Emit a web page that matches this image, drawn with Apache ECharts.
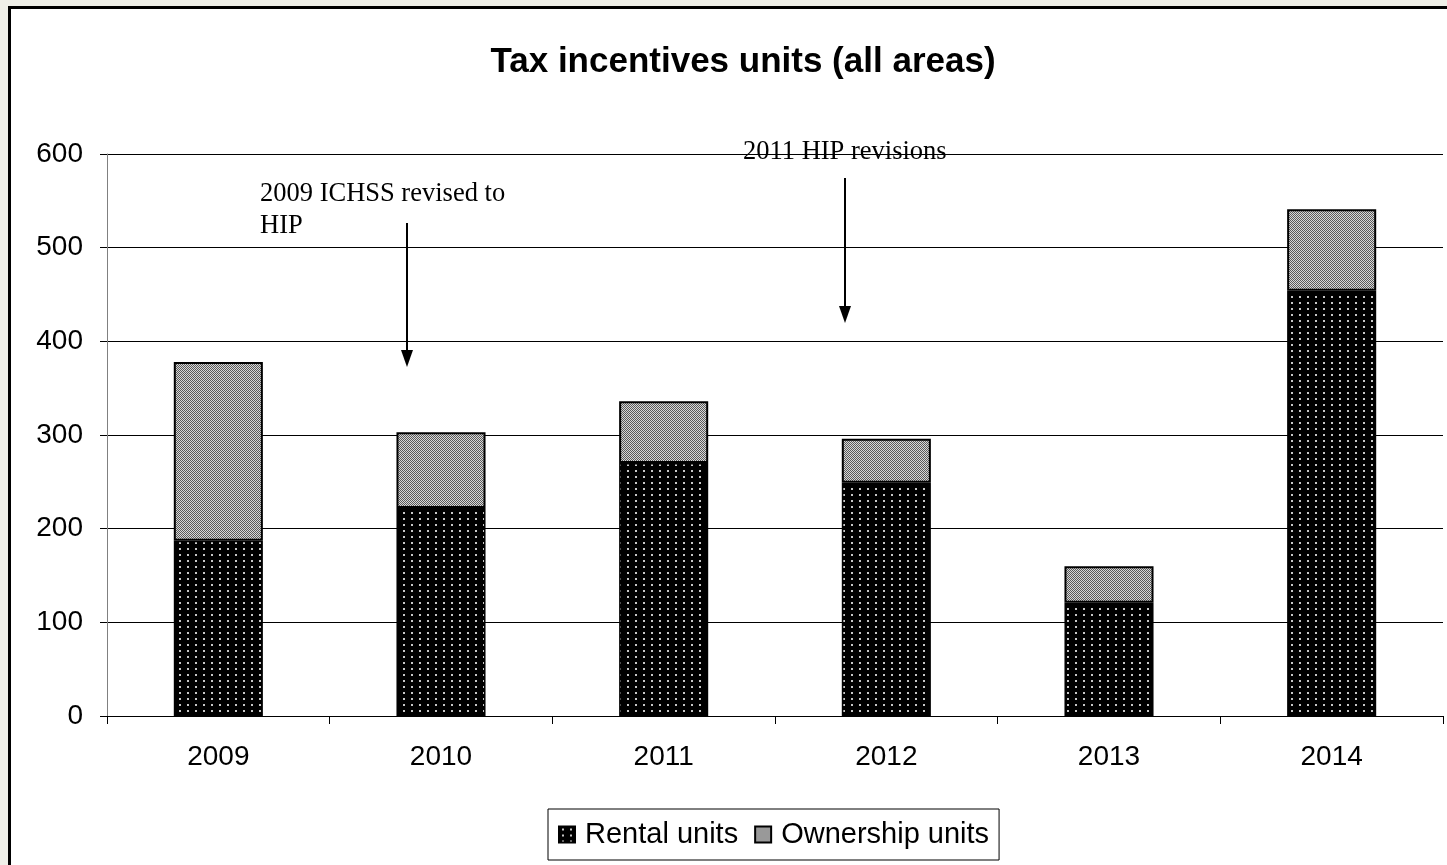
<!DOCTYPE html>
<html>
<head>
<meta charset="utf-8">
<script src="https://cdn.jsdelivr.net/npm/echarts@6/dist/echarts.min.js"></script>
<style>
    html, body { margin: 0; padding: 0; background: #efefe8; overflow: hidden; }
    #frame { position: absolute; left: 8px; top: 6px; width: 1460px; height: 880px; border: 3px solid #000; background: #fff; }
    #main { position: absolute; left: 0; top: 0; width: 1447px; height: 865px; }
</style>
</head>
<body>
<div id="frame"></div>
<div id="main"></div>
<script>
    // data
    var years = ['2009', '2010', '2011', '2012', '2013', '2014'];
    var rentalUnits = [187, 222, 270, 249, 121, 454];
    var ownershipUnits = [191, 81, 66, 47, 39, 87];
    var yTicks = [0, 100, 200, 300, 400, 500, 600];

    // fill patterns like the old office chart
    function makeTile(w, h, draw) {
        var c = document.createElement('canvas');
        c.width = w;
        c.height = h;
        draw(c.getContext('2d'));
        return { image: c, repeat: 'repeat' };
    }
    var rentalFill = makeTile(8, 6, function (ctx) {
        ctx.fillStyle = '#000';
        ctx.fillRect(0, 0, 8, 6);
        ctx.fillStyle = '#c8c8c8';
        ctx.fillRect(3, 2, 2, 2);
    });
    var ownershipFill = makeTile(2, 2, function (ctx) {
        ctx.fillStyle = '#d8d8d8';
        ctx.fillRect(0, 0, 2, 2);
        ctx.fillStyle = '#5a5a5a';
        ctx.fillRect(0, 0, 1, 1);
        ctx.fillRect(1, 1, 1, 1);
    });

    var myChart = echarts.init(document.getElementById('main'));
    var option = {
        animation: false,
        backgroundColor: 'transparent',
        title: {
            text: 'Tax incentives units (all areas)',
            left: 738,
            top: 40,
            textAlign: 'center',
            textStyle: {
                fontFamily: 'Liberation Sans',
                fontWeight: 'bold',
                fontSize: 35,
                color: '#000'
            }
        },
        grid: {
            left: 107,
            right: 4,
            top: 154,
            bottom: 149
        },
        legend: {
            data: ['Rental units', 'Ownership units'],
            left: 548,
            top: 809,
            padding: [11, 10, 11, 10],
            borderColor: '#000',
            borderWidth: 1,
            itemGap: 16,
            itemWidth: 16,
            itemHeight: 16,
            icon: 'rect',
            textStyle: {
                fontFamily: 'Liberation Sans',
                fontSize: 29,
                color: '#000',
                padding: [0, 0, 0, 5]
            }
        },
        xAxis: {
            type: 'category',
            data: years,
            axisLine: { lineStyle: { color: '#000', width: 1 } },
            axisTick: { show: true, length: 8, lineStyle: { color: '#000' } },
            axisLabel: {
                margin: 27,
                fontFamily: 'Liberation Sans',
                fontSize: 28,
                color: '#000'
            }
        },
        yAxis: {
            type: 'value',
            min: yTicks[0],
            max: yTicks[yTicks.length - 1],
            interval: 100,
            axisLine: { show: true, lineStyle: { color: '#808080', width: 1 } },
            axisTick: { show: true, length: 7, lineStyle: { color: '#000' } },
            axisLabel: {
                margin: 24,
                fontFamily: 'Liberation Sans',
                fontSize: 28,
                color: '#000'
            },
            splitLine: { lineStyle: { color: '#000', width: 1 } }
        },
        series: [
            {
                name: 'Rental units',
                type: 'bar',
                stack: 'units',
                barWidth: '40%',
                data: rentalUnits,
                itemStyle: { color: rentalFill, borderColor: '#000', borderWidth: 1.5 }
            },
            {
                name: 'Ownership units',
                type: 'bar',
                stack: 'units',
                barWidth: '40%',
                data: ownershipUnits,
                itemStyle: { color: ownershipFill, borderColor: '#000', borderWidth: 2 }
            }
        ],
        graphic: [
            {
                type: 'text',
                left: 260,
                top: 178,
                style: {
                    text: '2009 ICHSS revised to\nHIP',
                    font: '26.5px "Liberation Serif"',
                    lineHeight: 32,
                    fill: '#000'
                }
            },
            { type: 'line', shape: { x1: 407, y1: 223, x2: 407, y2: 354 }, style: { stroke: '#000', lineWidth: 2 } },
            { type: 'polygon', shape: { points: [[401, 350], [413, 350], [407, 367]] }, style: { fill: '#000' } },
            {
                type: 'text',
                left: 743,
                top: 139,
                style: {
                    text: '2011 HIP revisions',
                    font: '26.5px "Liberation Serif"',
                    fill: '#000'
                }
            },
            { type: 'line', shape: { x1: 845, y1: 178, x2: 845, y2: 310 }, style: { stroke: '#000', lineWidth: 2 } },
            { type: 'polygon', shape: { points: [[839, 306], [851, 306], [845, 323]] }, style: { fill: '#000' } }
        ]
    };
    myChart.setOption(option);
</script>
</body>
</html>
